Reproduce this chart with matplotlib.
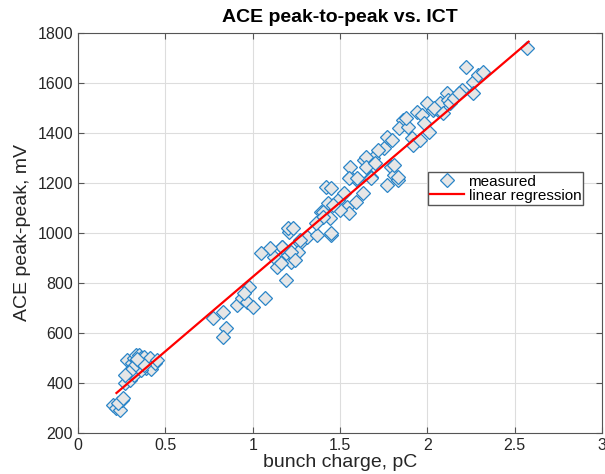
import matplotlib
matplotlib.use('Agg')
from matplotlib import pyplot as plt

plt.rcParams['font.family'] = ['Liberation Sans', 'DejaVu Sans']

# measured bunch charge (pC) and ACE peak-to-peak (mV)
charge = [0.20, 0.22, 0.24, 0.25, 0.23, 0.26, 0.27, 0.28, 0.29, 0.30,
          0.31, 0.32, 0.33, 0.33, 0.34, 0.35, 0.36, 0.37, 0.38, 0.39,
          0.40, 0.41, 0.42, 0.44, 0.45, 0.30, 0.32, 0.35, 0.36, 0.38,
          0.31, 0.34, 0.29, 0.27,
          0.77, 0.83, 0.85, 0.83, 0.91, 0.94, 0.98, 0.97, 1.00, 1.07,
          1.12, 1.14, 1.19, 1.20, 1.22, 1.21, 1.27, 1.26, 1.31, 1.37,
          1.45, 1.17, 1.16, 1.20, 1.17, 1.22, 1.27, 1.39, 1.42, 1.45,
          1.43, 1.49, 1.54, 1.56, 1.56, 1.60, 1.63, 1.64, 1.69, 1.68,
          1.65, 1.75, 1.77, 1.80, 1.79, 1.81, 1.77, 1.83, 1.86, 1.84,
          1.89, 1.91, 1.92, 1.96, 1.94, 1.97, 2.00, 2.03, 2.01, 2.06,
          2.07, 2.11, 2.12, 2.13, 2.20, 2.22, 2.26, 2.26, 2.29, 2.32,
          2.57, 1.55, 1.60, 1.65, 1.68, 1.59, 1.55, 1.50, 1.46, 1.40,
          1.44, 1.40, 1.45, 1.23, 1.24, 1.81, 1.83, 1.88, 1.98, 2.04,
          2.09, 2.15, 2.18, 1.72, 1.70, 1.52, 1.36, 1.10, 1.05, 0.95]
ace_pp = [310, 300, 290, 330, 320, 340, 400, 490, 420, 440,
          480, 500, 470, 510, 490, 510, 500, 480, 505, 460,
          470, 500, 455, 480, 490, 410, 430, 460, 450, 470,
          460, 495, 445, 430,
          660, 684, 620, 584, 712, 740, 784, 724, 704, 740,
          904, 864, 812, 912, 884, 1004, 960, 924, 984, 992,
          992, 944, 880, 1020, 944, 924, 972, 1084, 1184, 1180,
          1120, 1132, 1104, 1224, 1264, 1212, 1160, 1292, 1300, 1224,
          1304, 1340, 1384, 1372, 1264, 1232, 1192, 1212, 1452, 1420,
          1424, 1380, 1352, 1372, 1484, 1472, 1520, 1492, 1404, 1492,
          1520, 1560, 1532, 1520, 1572, 1664, 1604, 1560, 1632, 1644,
          1740, 1220, 1220, 1264, 1220, 1124, 1080, 1092, 1112, 1084,
          1060, 1064, 1000, 1020, 892, 1272, 1224, 1460, 1440, 1500,
          1480, 1540, 1560, 1330, 1280, 1160, 1040, 940, 920, 760]

# linear regression end points
reg_x = [0.22, 2.58]
reg_y = [360, 1765]

fig = plt.figure(figsize=(6.05, 4.74), dpi=100)
ax = fig.add_axes([0.129, 0.0865, 0.866, 0.844])

ax.plot(charge, ace_pp, 'D', markersize=7, markerfacecolor='#e6e6e6',
        markeredgecolor='#2a85c8', markeredgewidth=0.9, label='measured')
ax.plot(reg_x, reg_y, '-', color='#ff0000', linewidth=1.6, label='linear regression')

ax.set_xlim(0, 3)
ax.set_ylim(200, 1800)
ax.set_xticks([0, 0.5, 1, 1.5, 2, 2.5, 3])
ax.set_xticklabels(['0', '0.5', '1', '1.5', '2', '2.5', '3'])
ax.set_yticks(range(200, 1801, 200))

ax.grid(True, color='#dddddd', linewidth=0.8)
ax.set_axisbelow(True)
for s in ax.spines.values():
    s.set_color('#555555')
ax.tick_params(direction='in', top=True, right=True, colors='#262626',
               labelsize=11.5, length=4, color='#555555')

ax.set_title('ACE peak-to-peak vs. ICT', fontsize=14, fontweight='bold', pad=8)
ax.set_xlabel('bunch charge, pC', fontsize=14, color='#262626', labelpad=1)
ax.set_ylabel('ACE peak-peak, mV', fontsize=14, color='#262626', labelpad=5)

leg = ax.legend(loc='lower left', bbox_to_anchor=(0.668, 0.57), fontsize=11,
                handlelength=2.2, borderpad=0.15, labelspacing=0.0,
                handletextpad=0.3, fancybox=False, framealpha=1,
                borderaxespad=0)
leg.get_frame().set_edgecolor('#555555')

fig.savefig('out.png', dpi=100)
